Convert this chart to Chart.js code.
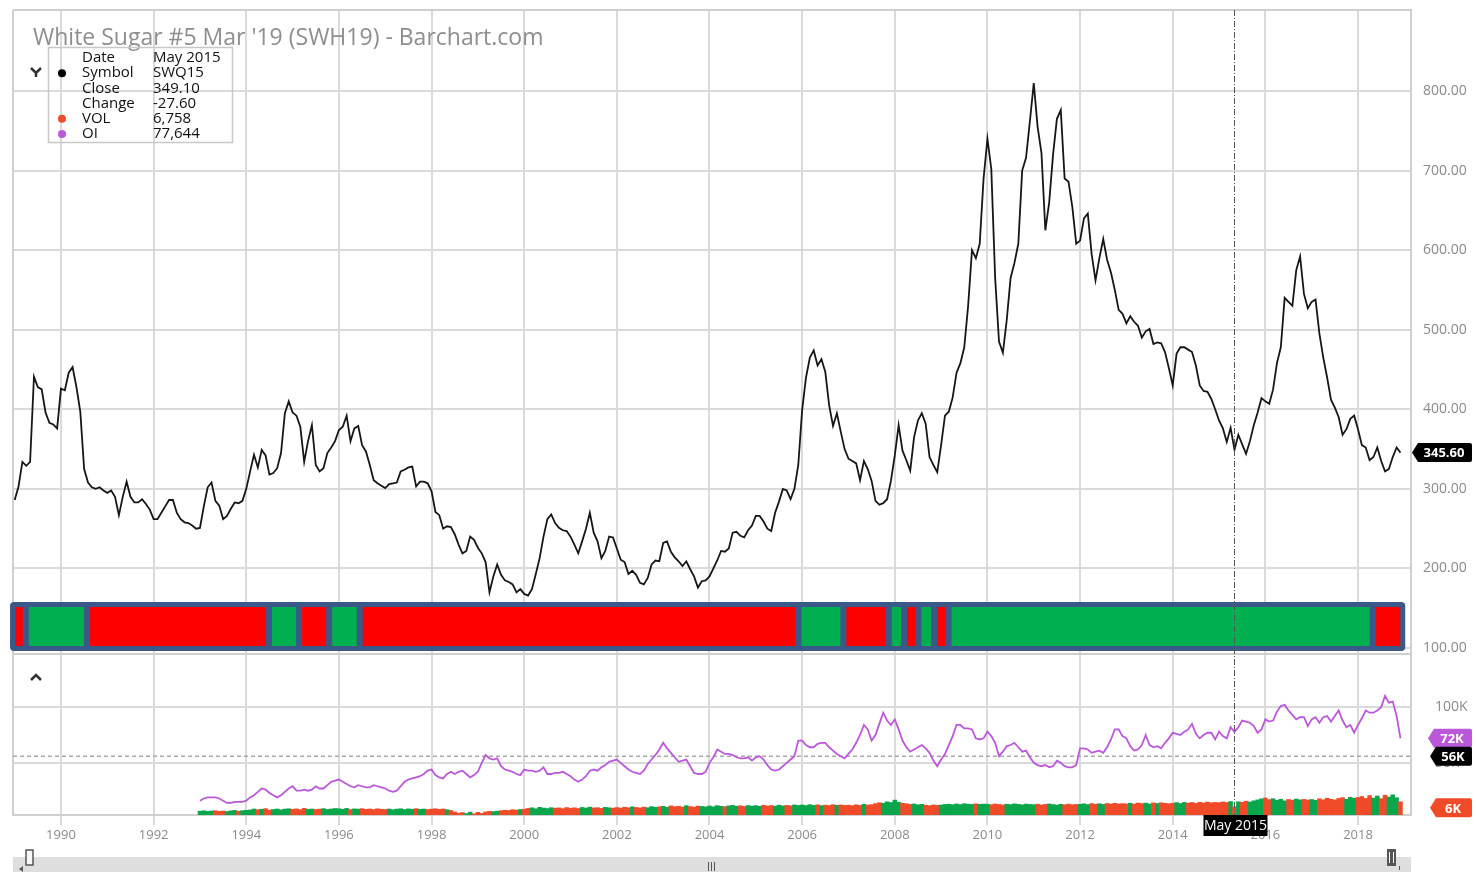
<!DOCTYPE html>
<html>
<head>
<meta charset="utf-8">
<title>White Sugar #5 Mar '19 (SWH19)</title>
<script src="https://cdn.jsdelivr.net/npm/chart.js@4.4.1/dist/chart.umd.min.js"></script>
<style>
  html, body { margin: 0; padding: 0; background: #fff; }
  canvas { display: block; }
</style>
</head>
<body>
<canvas id="sugarChart" width="1476" height="872"></canvas>
<script>
// Monthly closes (USD/t), Jan 1989 .. Dec 2018
const priceStartYear = 1989;
const closes1989to1998 = [
  286, 303, 334, 329, 334, 441, 428, 425, 396, 383, 381, 376,
  426, 424, 446, 453, 428, 397, 325, 308, 302, 300, 302, 298,
  295, 298, 290, 267, 290, 309, 290, 283, 283, 287, 281, 274,
  262, 262, 270, 278, 286, 286, 270, 262, 258, 257, 254, 250,
  251, 278, 302, 308, 285, 279, 262, 266, 275, 283, 282, 285,
  300, 322, 343, 327, 349, 342, 318, 320, 326, 345, 395, 410,
  396, 392, 378, 334, 360, 380, 330, 322, 326, 345, 352, 360,
  374, 378, 392, 360, 376, 379, 355, 347, 330, 311, 307, 304,
  301, 306, 307, 308, 322, 324, 327, 328, 303, 309, 309, 307,
  297, 271, 267, 250, 253, 252, 243, 230, 219, 222, 240, 236
];
const closes1999to2008 = [
  226, 219, 208, 170, 190, 205, 192, 185, 183, 180, 170, 174,
  168, 166, 174, 193, 213, 240, 262, 268, 257, 251, 248, 247,
  240, 230, 219, 234, 250, 270, 245, 234, 213, 222, 240, 239,
  225, 211, 208, 193, 197, 192, 182, 180, 188, 205, 210, 209,
  232, 234, 221, 214, 209, 203, 209, 199, 190, 176, 184, 185,
  190, 200, 210, 222, 221, 225, 245, 246, 241, 239, 248, 254,
  266, 266, 259, 250, 247, 270, 284, 300, 298, 287, 300, 330,
  399, 440, 465, 474, 455, 463, 447, 405, 379, 395, 372, 350,
  338, 335, 332, 311, 335, 325, 310, 285, 280, 282, 287, 310,
  342, 380, 348, 336, 323, 365, 386, 395, 382, 340, 330, 321
];
const closes2009to2018 = [
  355, 392, 397, 415, 446, 458, 478, 530, 600, 590, 608, 690,
  740, 702, 565, 485, 471, 512, 565, 584, 608, 700, 716, 762,
  810, 755, 722, 625, 660, 720, 765, 776, 690, 686, 654, 608,
  612, 640, 646, 595, 562, 590, 614, 588, 572, 550, 525, 520,
  508, 517, 510, 505, 490, 498, 501, 482, 484, 483, 472, 452,
  430, 470, 478, 478, 475, 472, 455, 430, 423, 422, 413, 400,
  386, 376, 359, 376.7, 349.1, 368, 356, 344, 360, 380, 396, 414,
  410, 407, 425, 458, 478, 540, 535, 530, 575, 592, 545, 527,
  535, 538, 495, 465, 440, 412, 402, 390, 368, 375, 388, 392,
  375, 355, 352, 336, 340, 352, 335, 322, 325, 340, 352, 345.6
];

// Open interest and volume (thousands of contracts), Jan 1993 .. Dec 2018
const subStartYear = 1993;
const openInterestK1993to2005 = [
  16, 18, 19, 19, 19, 18, 16, 14, 14, 15, 15, 15,
  16, 19, 21, 24, 27, 26, 23, 21, 19, 21, 24, 27,
  29, 25, 25, 26, 25, 26, 29, 27, 27, 30, 33, 34,
  35, 33, 31, 29, 28, 30, 29, 28, 28, 30, 29, 28,
  27, 25, 24, 25, 29, 33, 35, 36, 37, 38, 40, 43,
  44, 39, 37, 36, 40, 42, 40, 42, 43, 40, 37, 39,
  42, 50, 57, 54, 53, 54, 47, 44, 43, 42, 40, 39,
  44, 43, 43, 42, 43, 46, 40, 40, 41, 41, 42, 40,
  38, 35, 33, 35, 38, 43, 44, 43, 46, 48, 51, 52,
  53, 50, 47, 44, 42, 41, 40, 43, 49, 53, 57, 62,
  68, 63, 59, 55, 51, 52, 53, 47, 41, 40, 40, 42,
  50, 55, 62, 60, 58, 58, 57, 55, 54, 54, 55, 52,
  55, 56, 53, 48, 44, 43, 44, 47, 50, 53, 56, 70
];
const openInterestK2006to2018 = [
  70, 66, 64, 64, 67, 68, 68, 64, 61, 58, 56, 54,
  58, 62, 68, 75, 84, 80, 70, 75, 85, 95, 88, 84,
  89, 80, 70, 64, 60, 62, 64, 66, 63, 59, 52, 47,
  53, 58, 66, 74, 84, 84, 81, 81, 80, 72, 71, 72,
  78, 74, 68, 56, 60, 65, 66, 68, 64, 60, 61, 55,
  50, 48, 47, 48, 46, 47, 52, 50, 47, 46, 46, 48,
  63, 63, 62, 59, 60, 61, 59, 64, 71, 80, 80, 74,
  72, 65, 61, 62, 66, 75, 66, 64, 65, 63, 68, 72,
  77, 76, 75, 78, 80, 85, 76, 72, 75, 77, 77, 71,
  78, 74, 72, 82, 77.6, 82, 88, 87, 86, 83, 77, 80,
  89, 87, 88, 96, 101, 102, 97, 93, 89, 91, 91, 83,
  89, 91, 86, 91, 92, 87, 92, 97, 88, 82, 84, 77,
  84, 90, 97, 95, 95, 97, 100, 110, 104, 105, 92, 72
];
const volumeK1993to2005 = [
  3.2, 3.5, 3.0, 3.4, 3.6, 3.1, 3.3, 2.9, 3.5, 3.8, 3.2, 3.6,
  3.9, 4.2, 5.0, 4.4, 4.8, 5.3, 4.1, 4.6, 5.0, 4.3, 4.9, 5.2,
  4.8, 5.1, 4.4, 5.6, 4.7, 5.0, 4.5, 4.9, 5.3, 4.6, 5.0, 5.4,
  5.2, 4.8, 5.5, 4.6, 5.1, 4.9, 5.3, 4.7, 5.0, 4.5, 5.2, 4.8,
  4.6, 5.0, 4.4, 4.9, 5.2, 4.5, 5.1, 4.8, 5.3, 4.7, 5.0, 4.6,
  4.9, 5.2, 4.7, 5.0, 4.4, 3.8, 2.5, 1.5, 2.0, 1.2, 2.4, 1.0,
  2.2, 1.3, 2.6, 3.0, 2.8, 3.2, 3.6, 4.0, 3.8, 4.4, 4.1, 4.6,
  4.8, 5.5, 6.0, 5.2, 6.4, 5.8, 5.4, 6.1, 5.7, 5.9, 5.3, 6.2,
  5.6, 6.0, 5.4, 6.3, 5.8, 6.6, 5.9, 6.1, 5.5, 6.4, 6.0, 5.7,
  6.2, 5.8, 6.5, 6.0, 6.8, 6.3, 5.9, 6.6, 6.1, 7.0, 6.4, 6.8,
  7.2, 6.5, 7.6, 6.9, 7.3, 6.7, 7.8, 7.0, 6.6, 7.4, 7.1, 6.8,
  7.5, 6.9, 7.8, 7.2, 7.0, 7.6, 8.0, 7.3, 7.7, 7.1, 7.9, 7.4,
  7.8, 7.2, 8.1, 7.5, 7.9, 7.4, 8.2, 7.6, 8.0, 7.7, 8.4, 8.0
];
const volumeK2006to2018 = [
  8.3, 7.9, 8.6, 8.0, 8.5, 7.8, 8.2, 7.9, 8.6, 8.1, 8.4, 8.0,
  8.2, 7.8, 8.5, 8.0, 8.9, 8.3, 8.6, 9.5, 10.2, 9.8, 11.0, 10.4,
  12.4, 10.6, 9.8, 9.4, 8.8, 9.2, 8.5, 8.9, 8.2, 7.8, 8.4, 8.0,
  8.3, 8.8, 9.0, 8.6, 9.2, 8.7, 9.4, 9.0, 8.8, 9.3, 8.9, 9.1,
  9.0, 8.6, 9.2, 8.8, 8.4, 9.0, 8.7, 9.3, 8.9, 8.5, 9.1, 8.8,
  8.6, 9.0, 8.4, 8.8, 9.2, 8.7, 8.3, 8.9, 8.5, 9.1, 8.6, 8.8,
  8.9, 9.3, 8.7, 9.5, 9.0, 9.4, 8.8, 9.6, 9.1, 9.7, 9.2, 9.5,
  9.3, 9.8, 9.1, 10.0, 9.5, 9.9, 9.2, 10.1, 9.6, 10.2, 9.7, 9.4,
  9.8, 10.3, 9.6, 10.5, 9.9, 10.4, 9.7, 10.6, 10.0, 10.8, 10.2, 10.5,
  10.3, 10.9, 10.4, 11.2, 6.758, 11.0, 10.6, 11.5, 10.8, 11.8, 12.6, 13.5,
  14.2, 12.8, 13.6, 12.2, 13.1, 11.8, 12.9, 12.4, 13.3, 12.6, 13.0, 12.5,
  12.9, 12.2, 13.5, 12.7, 14.0, 13.1, 12.6, 13.8, 14.5, 13.2, 14.8, 13.9,
  14.6, 15.4, 13.8, 16.2, 14.1, 15.8, 13.6, 16.5, 15.0, 16.8, 14.4, 11.0
];

// axis ticks
const yearTicks = [1990, 1992, 1994, 1996, 1998, 2000, 2002, 2004, 2006, 2008, 2010, 2012, 2014, 2016, 2018];
const priceTicks = [100, 200, 300, 400, 500, 600, 700, 800];
const oiTicks = [50, 100];

// red / green regime strip (edges in years)
const bandEdges = [1988.90, 1989.24, 1990.56, 1994.49, 1995.14, 1995.79, 1996.45, 2005.92,
                   2006.89, 2007.87, 2008.20, 2008.51, 2008.85, 2009.16, 2018.32, 2019.02];
const bandStates = ['down', 'up', 'down', 'up', 'down', 'up', 'down', 'up',
                    'down', 'up', 'down', 'up', 'down', 'up', 'down'];

// hover read-out
const infoRows = [['Date', 'May 2015'], ['Symbol', 'SWQ15'], ['Close', '349.10'],
                  ['Change', '-27.60'], ['VOL', '6,758'], ['OI', '77,644']];
const crosshairDate = 2015 + 4 / 12;
const crosshairLabel = 'May 2015';
const lastClose = 345.60;
const lastOiK = 72;
const avgOiK = 56;
const lastVolK = 6;

const GRID = '#dadada';
const GREEN = '#0aa64c';
const RED = '#f04a28';
const PURPLE = '#bb58da';
const BAND_BLUE = '#3b5988';

// build series
const closes = closes1989to1998.concat(closes1999to2008, closes2009to2018);
const openInterestK = openInterestK1993to2005.concat(openInterestK2006to2018);
const volumeK = volumeK1993to2005.concat(volumeK2006to2018);

const priceData = closes.map((c, i) => ({ x: priceStartYear + i / 12, y: c }));
const oiData = openInterestK.map((v, i) => ({ x: subStartYear + i / 12, y: v }));
const volData = volumeK.map((v, i) => ({ x: subStartYear + i / 12, y: v }));

// volume bar colour: up month green, down month red
const offset = (subStartYear - priceStartYear) * 12;
const volColors = volumeK.map((v, i) => {
  let k = offset + i;
  return closes[k] >= closes[k - 1] ? GREEN : RED;
});

function roundRect(ctx, x, y, w, h, r) {
  ctx.beginPath();
  ctx.moveTo(x + r, y);
  ctx.lineTo(x + w - r, y);
  ctx.quadraticCurveTo(x + w, y, x + w, y + r);
  ctx.lineTo(x + w, y + h - r);
  ctx.quadraticCurveTo(x + w, y + h, x + w - r, y + h);
  ctx.lineTo(x + r, y + h);
  ctx.quadraticCurveTo(x, y + h, x, y + h - r);
  ctx.lineTo(x, y + r);
  ctx.quadraticCurveTo(x, y, x + r, y);
  ctx.closePath();
}

// price tag with arrow pointing left
function drawTag(ctx, right, yc, w, text, bg) {
  let h = 19, tip = 6, left = right - w;
  ctx.beginPath();
  ctx.moveTo(left - tip, yc);
  ctx.lineTo(left, yc - h / 2);
  ctx.lineTo(right - 2, yc - h / 2);
  ctx.quadraticCurveTo(right, yc - h / 2, right, yc - h / 2 + 2);
  ctx.lineTo(right, yc + h / 2 - 2);
  ctx.quadraticCurveTo(right, yc + h / 2, right - 2, yc + h / 2);
  ctx.lineTo(left, yc + h / 2);
  ctx.closePath();
  ctx.fillStyle = bg;
  ctx.fill();
  ctx.fillStyle = '#fff';
  ctx.font = 'bold 13px "Open Sans"';
  ctx.textAlign = 'center';
  ctx.textBaseline = 'middle';
  ctx.fillText(text, left + w / 2 - 1, yc + 1);
}

// keep tick-label padding from pushing the plot area around
function noScalePadding(s) {
  s.paddingTop = 0;
  s.paddingBottom = 0;
  s.paddingLeft = 0;
  s.paddingRight = 0;
}

const decorPlugin = {
  id: 'decor',
  beforeDatasetsDraw(chart) {
    let ctx = chart.ctx;
    let area = chart.chartArea;
    let yMain = chart.scales.y;
    let yOI = chart.scales.yOI;

    ctx.save();
    ctx.strokeStyle = '#cfcfcf';
    ctx.lineWidth = 2;
    ctx.beginPath();
    ctx.moveTo(area.left, area.top);
    ctx.lineTo(area.right, area.top);
    ctx.moveTo(area.left, area.top);
    ctx.lineTo(area.left, area.bottom);
    ctx.moveTo(area.left, yMain.bottom);
    ctx.lineTo(area.right, yMain.bottom);
    ctx.stroke();

    // average open interest line
    let ya = yOI.getPixelForValue(avgOiK);
    ctx.strokeStyle = '#a8a8a8';
    ctx.lineWidth = 1.5;
    ctx.setLineDash([4, 3]);
    ctx.beginPath();
    ctx.moveTo(area.left, ya);
    ctx.lineTo(area.right, ya);
    ctx.stroke();
    ctx.restore();
  },
  afterDatasetsDraw(chart) {
    let ctx = chart.ctx;
    let area = chart.chartArea;
    let x = chart.scales.x;
    let yMain = chart.scales.y;

    // regime strip at the foot of the price pane
    let bottom = yMain.bottom - 3;
    let top = bottom - 49;
    let x0 = x.getPixelForValue(bandEdges[0]);
    let x1 = x.getPixelForValue(bandEdges[bandEdges.length - 1]);
    ctx.save();
    roundRect(ctx, x0, top, x1 - x0, bottom - top, 4);
    ctx.fillStyle = BAND_BLUE;
    ctx.fill();
    for (let i = 0; i < bandStates.length; i++) {
      let a = x.getPixelForValue(bandEdges[i]) + (i === 0 ? 5 : 3);
      let b = x.getPixelForValue(bandEdges[i + 1]) - (i === bandStates.length - 1 ? 5 : 3);
      ctx.fillStyle = bandStates[i] === 'up' ? '#00b050' : '#ff0000';
      ctx.fillRect(a, top + 5, b - a, bottom - top - 10);
    }

    // crosshair
    let cx = Math.round(x.getPixelForValue(crosshairDate)) + 0.5;
    ctx.strokeStyle = '#555';
    ctx.lineWidth = 1;
    ctx.setLineDash([6, 2, 1, 2]);
    ctx.beginPath();
    ctx.moveTo(cx, area.top);
    ctx.lineTo(cx, area.bottom);
    ctx.stroke();
    ctx.restore();
  },
  afterDraw(chart) {
    let ctx = chart.ctx;
    let area = chart.chartArea;
    let x = chart.scales.x;
    let yMain = chart.scales.y;
    let yOI = chart.scales.yOI;
    let yVol = chart.scales.yVol;
    ctx.save();

    // title
    ctx.fillStyle = '#8e8e8e';
    ctx.font = '23px "Open Sans"';
    ctx.textAlign = 'left';
    ctx.textBaseline = 'alphabetic';
    ctx.fillText("White Sugar #5 Mar '19 (SWH19) - Barchart.com", 33, 45);

    // read-out box
    ctx.strokeStyle = '#c8c8c8';
    ctx.lineWidth = 1.5;
    ctx.strokeRect(48.5, 47.5, 184, 95);
    ctx.font = '15px "Open Sans"';
    ctx.textBaseline = 'middle';
    ctx.fillStyle = '#111';
    infoRows.forEach((row, k) => {
      let ry = 58 + k * 15.2;
      ctx.fillText(row[0], 82, ry);
      ctx.fillText(row[1], 153, ry);
    });
    let dots = [[1, '#000'], [4, RED], [5, PURPLE]];
    dots.forEach(d => {
      ctx.beginPath();
      ctx.arc(62, 58 + d[0] * 15.2, 4, 0, Math.PI * 2);
      ctx.fillStyle = d[1];
      ctx.fill();
    });

    // collapse chevrons
    ctx.strokeStyle = '#333';
    ctx.lineWidth = 2.5;
    ctx.beginPath();
    ctx.moveTo(31, 68); ctx.lineTo(36, 73); ctx.lineTo(41, 68);
    ctx.moveTo(36, 73); ctx.lineTo(36, 77);
    ctx.moveTo(31, 680); ctx.lineTo(36, 675); ctx.lineTo(41, 680);
    ctx.stroke();

    // last value tags
    drawTag(ctx, 1472, yMain.getPixelForValue(lastClose), 54, lastClose.toFixed(2), '#000');
    drawTag(ctx, 1472, yOI.getPixelForValue(lastOiK), 38, lastOiK + 'K', PURPLE);
    drawTag(ctx, 1472, yOI.getPixelForValue(avgOiK), 36, avgOiK + 'K', '#000');
    drawTag(ctx, 1472, yVol.getPixelForValue(lastVolK), 36, lastVolK + 'K', RED);

    // crosshair date label
    let cx = x.getPixelForValue(crosshairDate);
    ctx.fillStyle = '#000';
    ctx.fillRect(cx - 31, area.bottom, 64, 21);
    ctx.fillStyle = '#fff';
    ctx.font = '14px "Open Sans"';
    ctx.textAlign = 'center';
    ctx.fillText(crosshairLabel, cx + 1, area.bottom + 11);

    // scroll bar
    ctx.fillStyle = '#dedede';
    ctx.fillRect(area.left, 857, area.right - area.left, 15);
    ctx.fillStyle = '#f6f6f6';
    ctx.strokeStyle = '#555';
    ctx.lineWidth = 1.5;
    ctx.fillRect(26, 850, 7, 15);
    ctx.strokeRect(26, 850, 7, 15);
    ctx.fillStyle = '#555';
    ctx.beginPath();
    ctx.moveTo(19, 869); ctx.lineTo(23, 866); ctx.lineTo(23, 872);
    ctx.fill();
    ctx.fillRect(1387, 849, 9, 17);
    ctx.strokeStyle = '#fff';
    ctx.lineWidth = 1;
    ctx.beginPath();
    ctx.moveTo(1389.5, 852); ctx.lineTo(1389.5, 863);
    ctx.moveTo(1393.5, 852); ctx.lineTo(1393.5, 863);
    ctx.stroke();
    ctx.strokeStyle = '#555';
    ctx.beginPath();
    ctx.moveTo(1399.5, 866); ctx.lineTo(1399.5, 870);
    [708.5, 711.5, 714.5].forEach(gx => { ctx.moveTo(gx, 862); ctx.lineTo(gx, 871); });
    ctx.stroke();
    ctx.restore();
  }
};

const tickFont = { family: 'Open Sans', size: 13 };
const priceTickFont = { family: 'Open Sans', size: 14 };

let ctx = document.getElementById('sugarChart').getContext('2d');

let sugarChart = new Chart(ctx, {
  type: 'line',
  data: {
    datasets: [
      {
        label: 'Close',
        data: priceData,
        yAxisID: 'y',
        borderColor: '#161616',
        borderWidth: 1.8,
        pointRadius: 0,
        tension: 0
      },
      {
        label: 'OI',
        data: oiData,
        yAxisID: 'yOI',
        borderColor: PURPLE,
        borderWidth: 1.8,
        pointRadius: 0,
        tension: 0
      },
      {
        type: 'bar',
        label: 'VOL',
        data: volData,
        yAxisID: 'yVol',
        backgroundColor: volColors,
        borderWidth: 0,
        barPercentage: 1,
        categoryPercentage: 1
      }
    ]
  },
  options: {
    responsive: false,
    animation: false,
    events: [],
    layout: { autoPadding: false, padding: { left: 13, top: 10, right: 0, bottom: 0 } },
    plugins: {
      legend: { display: false },
      tooltip: { enabled: false }
    },
    scales: {
      x: {
        type: 'linear',
        min: 1988.964,
        max: 2019.144,
        offset: false,
        afterBuildTicks: (s) => { s.ticks = yearTicks.map(v => ({ value: v })); },
        afterFit: (s) => { s.height = 57; noScalePadding(s); },
        grid: { offset: false, color: GRID, lineWidth: 2, tickLength: 10, tickColor: GRID },
        border: { color: '#cfcfcf', width: 2 },
        ticks: { color: '#8a8a8a', font: tickFont, padding: 2, maxRotation: 0, autoSkip: false,
                 callback: (v) => String(v) }
      },
      y: {
        position: 'right',
        stack: 'panes',
        stackWeight: 644,
        min: 92.5,
        max: 901.8,
        afterBuildTicks: (s) => { s.ticks = priceTicks.map(v => ({ value: v })); },
        afterFit: (s) => { s.width = 65; noScalePadding(s); },
        grid: { color: GRID, lineWidth: 2, drawTicks: false },
        border: { color: '#cfcfcf', width: 2 },
        ticks: { color: '#8a8a8a', font: priceTickFont, padding: 12, callback: (v) => v.toFixed(2) }
      },
      yOI: {
        position: 'right',
        stack: 'panes',
        stackWeight: 161,
        min: 3.2,
        max: 147.7,
        afterBuildTicks: (s) => { s.ticks = oiTicks.map(v => ({ value: v })); },
        afterFit: (s) => { s.width = 65; noScalePadding(s); },
        grid: { color: GRID, lineWidth: 2, drawTicks: false },
        border: { color: '#cfcfcf', width: 2 },
        ticks: { color: '#8a8a8a', font: priceTickFont, padding: 24, callback: (v) => v + 'K' }
      },
      yVol: {
        display: false,
        position: 'left',
        min: 0,
        max: 670.8
      }
    }
  },
  plugins: [decorPlugin]
});
</script>
</body>
</html>
